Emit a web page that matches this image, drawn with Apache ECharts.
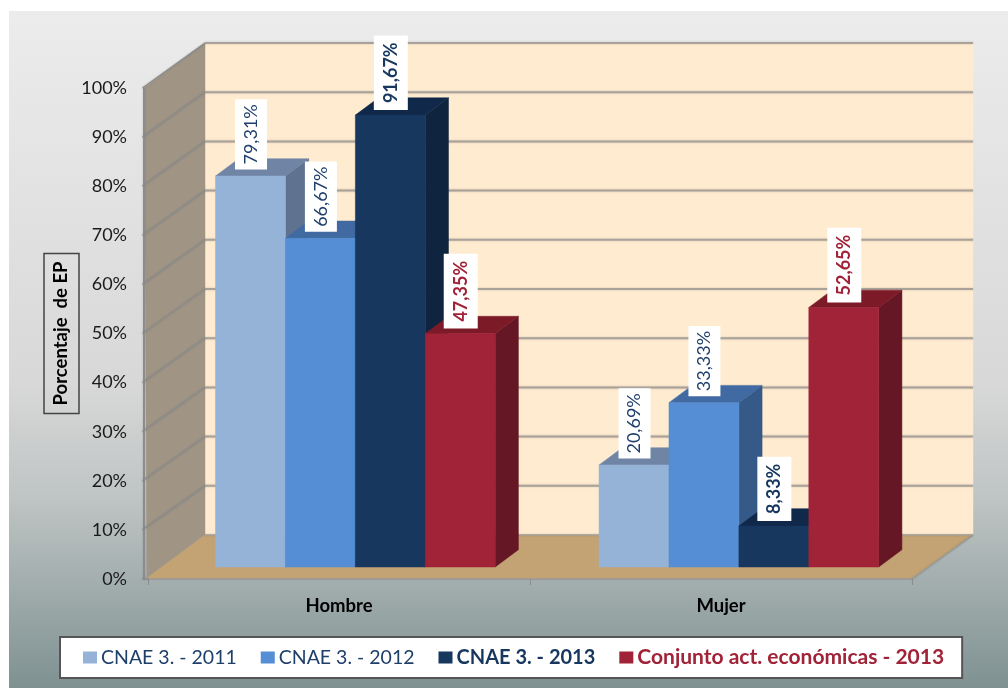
<!DOCTYPE html>
<html>
<head>
<meta charset="utf-8">
<style>
html, body { margin: 0; padding: 0; background: #fff; }
#chart { width: 1008px; height: 688px; }
</style>
<script src="https://cdn.jsdelivr.net/npm/echarts@6/dist/echarts.min.js"></script>
</head>
<body>
<div id="chart"></div>
<script>
// datos
var categories = ['Hombre', 'Mujer'];
var yTicks = [0, 10, 20, 30, 40, 50, 60, 70, 80, 90, 100];
var seriesNames = ['CNAE 3. - 2011', 'CNAE 3. - 2012', 'CNAE 3. - 2013', 'Conjunto act. económicas - 2013'];
var cnae2011 = [79.31, 20.69];
var cnae2012 = [66.67, 33.33];
var cnae2013 = [91.67, 8.33];
var conjunto2013 = [47.35, 52.65];

var values = [cnae2011, cnae2012, cnae2013, conjunto2013];
// colores: frente, arriba, lado
var faces = [
    ['#95b3d7', '#7085a5', '#5f7391'],
    ['#558ed5', '#406aa1', '#355a87'],
    ['#17375e', '#10294a', '#0f243e'],
    ['#a12337', '#7c1a28', '#661725']
];
var labelColors = ['#1f3f6b', '#1f3f6b', '#17375e', '#a12337'];
var labelBold = [false, false, true, true];

var fontName = 'Lato';
var originX = 148, originY = 579; // esquina del eje delantero
var barShare = 0.1823;
// planos en profundidad respecto al plano de los ejes
var barPlane = { s: 1.004, dx: 15.6, dy: -12 };
var depth = { dx: 23.2, dy: -17.3 };
var wallPlane = { sx: 1.0052, sy: 1.002, dx: 57, dy: -44 };

function onBars(p) {
    return [originX + (p[0] - originX) * barPlane.s + barPlane.dx,
            originY + (p[1] - originY) * barPlane.s + barPlane.dy];
}
function onWall(p) {
    return [originX + (p[0] - originX) * wallPlane.sx + wallPlane.dx,
            originY + (p[1] - originY) * wallPlane.sy + wallPlane.dy];
}
function poly(points, color) {
    return { type: 'polygon', shape: { points: points }, style: { fill: color, stroke: color, lineWidth: 0.5 } };
}
function line(a, b, color, width) {
    return { type: 'line', shape: { x1: a[0], y1: a[1], x2: b[0], y2: b[1] },
        style: { stroke: color, lineWidth: width, shadowBlur: 2, shadowColor: 'rgba(90,90,90,0.3)' } };
}

// paredes, suelo y lineas de division
function renderWalls(params, api) {
    var band = api.size([1, 0])[0];
    var left = api.coord([0, 0])[0] - band / 2;
    var right = api.coord([1, 0])[0] + band / 2;
    var y0 = api.coord([0, 0])[1];
    var y100 = api.coord([0, 100])[1];
    var frontX = left - 4;
    var backTL = onWall([left, y100]), backTR = onWall([right, y100]);
    var backBL = onWall([left, y0]), backBR = onWall([right, y0]);
    var children = [
        poly([backTL, backTR, backBR, backBL], '#feebd0'),
        poly([[frontX, y100], backTL, backBL, [left - 1, y0 - 1]], '#a09585'),
        poly([[left - 1, y0 - 1], backBL, backBR, [right, y0 - 1]], '#c3a374'),
        line([right, y0], backBR, '#9a9a94', 1.5),
        line(backBL, backBR, '#a8a196', 1.5),
        line([frontX, y100], [frontX, y0], '#8c8c8c', 2)
    ];
    yTicks.forEach(function(t) {
        var y = api.coord([0, t])[1];
        var b1 = onWall([left, y]), b2 = onWall([right, y]);
        if (t > 0) children.push(line(b1, b2, '#a9a29a', 2));
        children.push(line([frontX - 1.5, y], t > 0 ? b1 : [left, y], '#8c8c8c', 1.5));
    });
    return { type: 'group', children: children };
}

function makeBarRenderer(j) {
    return function(params, api) {
        var cat = api.value(0), val = api.value(1);
        var center = api.coord([cat, 0])[0];
        var barW = api.size([1, 0])[0] * barShare;
        var x0 = center + (j - 2) * barW, x1 = x0 + barW;
        var yBase = api.coord([cat, 0])[1], yTop = api.coord([cat, val])[1];
        var bl = onBars([x0, yBase]), br = onBars([x1, yBase]);
        var tl = onBars([x0, yTop]), tr = onBars([x1, yTop]);
        var off = function(p) { return [p[0] + depth.dx, p[1] + depth.dy]; };
        return {
            type: 'group',
            children: [
                poly([br, tr, off(tr), off(br)], faces[j][2]),
                poly([tl, tr, off(tr), off(tl)], faces[j][1]),
                poly([bl, br, tr, tl], faces[j][0])
            ]
        };
    };
}

// etiquetas giradas encima de cada barra
function renderLabel(params, api) {
    var cat = api.value(0), val = api.value(1), j = api.value(2);
    var barW = api.size([1, 0])[0] * barShare;
    var center = api.coord([cat, 0])[0] + (j - 1.5) * barW;
    var top = onBars([center, api.coord([cat, val])[1]]);
    return {
        type: 'text',
        x: top[0] + 0.5,
        y: top[1] - (labelBold[j] ? 5 : 6.5),
        rotation: Math.PI / 2,
        style: {
            text: val.toFixed(2).replace('.', ',') + '%',
            fill: labelColors[j],
            font: (labelBold[j] ? 'bold ' : '') + '18px ' + fontName,
            align: 'left',
            verticalAlign: 'middle',
            backgroundColor: '#fff',
            padding: labelBold[j] ? [8, 7, 8, 7] : [7, 5, 7, 5]
        }
    };
}

var series = [{
    type: 'custom',
    name: 'paredes',
    silent: true,
    renderItem: renderWalls,
    data: [[0, 0]],
    encode: { x: 0, y: 1 }
}];
values.forEach(function(vals, j) {
    series.push({
        type: 'custom',
        name: seriesNames[j],
        silent: true,
        itemStyle: { color: faces[j][0] },
        renderItem: makeBarRenderer(j),
        data: vals.map(function(v, i) { return [i, v]; }),
        encode: { x: 0, y: 1 }
    });
});
var labelData = [];
values.forEach(function(vals, j) {
    vals.forEach(function(v, i) { labelData.push([i, v, j]); });
});
series.push({
    type: 'custom',
    name: 'etiquetas',
    silent: true,
    z: 5,
    renderItem: renderLabel,
    data: labelData,
    encode: { x: 0, y: 1 }
});

var chart = echarts.init(document.getElementById('chart'), null, { renderer: 'canvas' });
chart.setOption({
    animation: false,
    textStyle: { fontFamily: fontName },
    graphic: [{
        type: 'rect',
        shape: { x: 9, y: 11, width: 999, height: 677 },
        style: {
            fill: new echarts.graphic.LinearGradient(0, 0, 0, 1, [
                { offset: 0, color: '#ececec' },
                { offset: 0.55, color: '#d8d8d8' },
                { offset: 0.72, color: '#bfc4c4' },
                { offset: 1, color: '#7f9191' }
            ])
        },
        silent: true
    }],
    grid: { left: 148, right: 96, top: 88, bottom: 109 },
    xAxis: {
        type: 'category',
        data: categories,
        axisLine: { lineStyle: { color: '#9a9a9a', width: 2 } },
        axisTick: { show: true, length: 6, lineStyle: { color: '#8c8c8c', width: 1 } },
        axisLabel: { margin: 18, color: '#000', fontWeight: 'bold', fontSize: 18.5, fontFamily: fontName }
    },
    yAxis: {
        type: 'value',
        min: 0,
        max: 100,
        interval: 10,
        splitLine: { show: false },
        axisLine: { show: false },
        axisTick: { show: false },
        axisLabel: { margin: 21, color: '#1a1a1a', fontSize: 18, fontFamily: fontName, formatter: '{value}%', padding: [2, 0, 0, 0] },
        name: 'Porcentaje  de EP',
        nameLocation: 'middle',
        nameRotate: 90,
        nameGap: 69,
        nameMoveOverlap: false,
        nameTextStyle: {
            color: '#000',
            fontWeight: 'bold',
            fontSize: 18.5,
            fontFamily: fontName,
            borderColor: '#444',
            borderWidth: 1.5,
            padding: [8, 8, 8, 8]
        }
    },
    legend: {
        left: 60,
        top: 637,
        padding: [10, 18, 10, 23],
        itemWidth: 14,
        itemHeight: 12,
        itemGap: 24,
        icon: 'rect',
        backgroundColor: '#fff',
        borderColor: '#555',
        borderWidth: 2,
        selectedMode: false,
        data: [
            { name: seriesNames[0], textStyle: { color: '#1f3f6b', fontSize: 19.5 } },
            { name: seriesNames[1], textStyle: { color: '#1f3f6b', fontSize: 19.5 } },
            { name: seriesNames[2], textStyle: { color: '#17375e', fontSize: 20, fontWeight: 'bold' } },
            { name: seriesNames[3], textStyle: { color: '#a12337', fontSize: 21, fontWeight: 'bold' } }
        ],
        textStyle: { fontFamily: fontName, padding: [0, 0, 0, -1] }
    },
    series: series
});
</script>
</body>
</html>
